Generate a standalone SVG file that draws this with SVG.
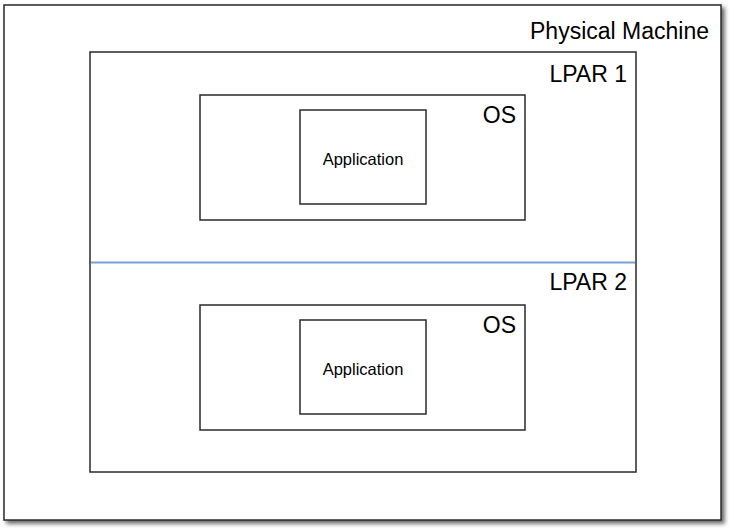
<svg xmlns="http://www.w3.org/2000/svg" width="730" height="528" viewBox="0 0 730 528">
<defs>
<filter id="sh" x="-5%" y="-5%" width="110%" height="110%">
<feGaussianBlur in="SourceAlpha" stdDeviation="2"/>
<feOffset dx="3" dy="3" result="b"/>
<feComponentTransfer><feFuncA type="linear" slope="0.6"/></feComponentTransfer>
<feMerge><feMergeNode/><feMergeNode in="SourceGraphic"/></feMerge>
</filter>
</defs>
<style>
.box{fill:#fff;stroke:#2a2a2a;stroke-width:1.5}
.lbl{font-family:"Liberation Sans",Arial,sans-serif;font-size:23px;fill:#000}
.app{font-family:"Liberation Sans",Arial,sans-serif;font-size:16.5px;fill:#000;text-anchor:middle}
</style>
<rect width="730" height="528" fill="#fff"/>
<g id="physical-machine">
<rect class="box" x="4" y="5" width="717" height="515" stroke-width="2.2" filter="url(#sh)"/>
<text class="lbl" x="709" y="39" text-anchor="end">Physical Machine</text>
</g>
<g id="lpar-frame">
<rect class="box" x="90" y="52" width="546" height="420"/>
</g>
<g id="connectors">
<line x1="91" y1="262.5" x2="635" y2="262.5" stroke="#7a9fd4" stroke-width="2"/>
</g>
<g id="lpar1">
<text class="lbl" x="627" y="82" text-anchor="end">LPAR 1</text>
</g>
<g id="os1">
<rect class="box" x="200" y="95" width="325" height="125"/>
<text class="lbl" x="516" y="123" text-anchor="end">OS</text>
</g>
<g id="app1">
<rect class="box" x="300" y="110" width="126" height="94"/>
<text class="app" x="363" y="165">Application</text>
</g>
<g id="lpar2">
<text class="lbl" x="627" y="290" text-anchor="end">LPAR 2</text>
</g>
<g id="os2">
<rect class="box" x="200" y="305" width="325" height="125"/>
<text class="lbl" x="516" y="333" text-anchor="end">OS</text>
</g>
<g id="app2">
<rect class="box" x="300" y="320" width="126" height="94"/>
<text class="app" x="363" y="375">Application</text>
</g>
</svg>
